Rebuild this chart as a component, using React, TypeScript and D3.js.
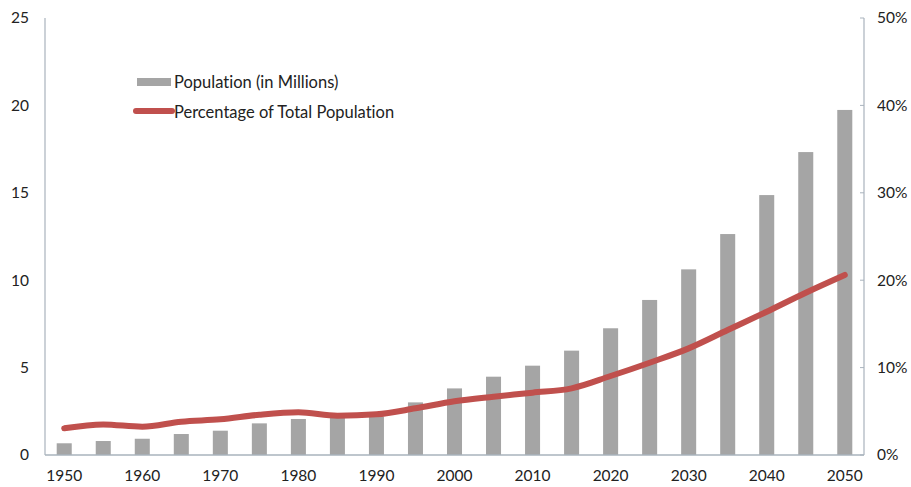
import React from "react";
import * as d3 from "d3";

const years = [1950,1955,1960,1965,1970,1975,1980,1985,1990,1995,2000,2005,2010,2015,2020,2025,2030,2035,2040,2045,2050];
const population = [0.67,0.8,0.93,1.2,1.39,1.81,2.06,2.15,2.2,3.01,3.81,4.48,5.11,5.97,7.25,8.87,10.62,12.64,14.87,17.33,19.74];
const percentage = [3.05,3.5,3.24,3.81,4.08,4.6,4.88,4.5,4.65,5.34,6.15,6.67,7.13,7.63,9.04,10.56,12.2,14.3,16.4,18.57,20.6];
const leftTicks = [0,5,10,15,20,25];
const rightTicks = [0,10,20,30,40,50];
const labelYears = [1950,1960,1970,1980,1990,2000,2010,2020,2030,2040,2050];

const W = 911, H = 487;
const left = 45, right = 864, top = 18, bottom = 455;
const font = "Lato, 'Open Sans', sans-serif";
const axisColor = "#a9b3bd";
const textColor = "#222";
const txtStyle: React.CSSProperties = { fontVariantLigatures: "none" };

export default function App() {
  const x = d3.scaleBand<number>().domain(years).range([left, right]).paddingInner(0.615).paddingOuter(0.3);
  const yL = d3.scaleLinear().domain([0, 25]).range([bottom, top]);
  const yR = d3.scaleLinear().domain([0, 50]).range([bottom, top]);
  const line = d3.line<number>()
    .x((_, i) => (x(years[i]) as number) + x.bandwidth() / 2)
    .y((d) => yR(d))
    .curve(d3.curveMonotoneX);
  return (
    <svg width={W} height={H} style={{ position: "absolute", left: 0, top: 0, background: "#fff" }}>
      <rect x={0} y={0} width={W} height={H} fill="#fff" />
      {years.map((yr, i) => (
        <rect key={yr} x={x(yr)} y={yL(population[i])} width={x.bandwidth()} height={bottom - yL(population[i])} fill="#a5a5a5" />
      ))}
      <path d={line(percentage) || ""} fill="none" stroke="#c0504d" strokeWidth={6} strokeLinecap="round" strokeLinejoin="round" />
      <line x1={left} x2={left} y1={top} y2={bottom} stroke={axisColor} strokeWidth={1.2} />
      <line x1={right} x2={right} y1={top} y2={bottom} stroke={axisColor} strokeWidth={1.2} />
      <line x1={left} x2={right} y1={bottom} y2={bottom} stroke={axisColor} strokeWidth={1.5} />
      {leftTicks.map((t) => (
        <text key={t} x={29} y={yL(t)} dy="0.35em" textAnchor="end" fontFamily={font} fontSize={15.5} fill={textColor} style={txtStyle}>{t}</text>
      ))}
      {rightTicks.map((t) => (
        <g key={t}>
          <line x1={right - 4} x2={right} y1={yR(t)} y2={yR(t)} stroke={axisColor} strokeWidth={1} />
          <text x={877} y={yR(t)} dy="0.35em" textAnchor="start" fontFamily={font} fontSize={15.5} fill={textColor} style={txtStyle}>{t}%</text>
        </g>
      ))}
      {labelYears.map((yr) => (
        <text key={yr} x={(x(yr) as number) + x.bandwidth() / 2} y={476} dy="0.35em" textAnchor="middle" fontFamily={font} fontSize={15.5} fill={textColor} style={txtStyle}>{yr}</text>
      ))}
      <rect x={137} y={78} width={34} height={8} fill="#a5a5a5" />
      <text x={174} y={82} dy="0.35em" fontFamily={font} fontSize={16.5} fill={textColor} style={txtStyle}>Population (in Millions)</text>
      <line x1={136} x2={172} y1={111} y2={111} stroke="#c0504d" strokeWidth={6} strokeLinecap="round" />
      <text x={174} y={112} dy="0.35em" fontFamily={font} fontSize={16.5} fill={textColor} style={txtStyle}>Percentage of Total Population</text>
    </svg>
  );
}
